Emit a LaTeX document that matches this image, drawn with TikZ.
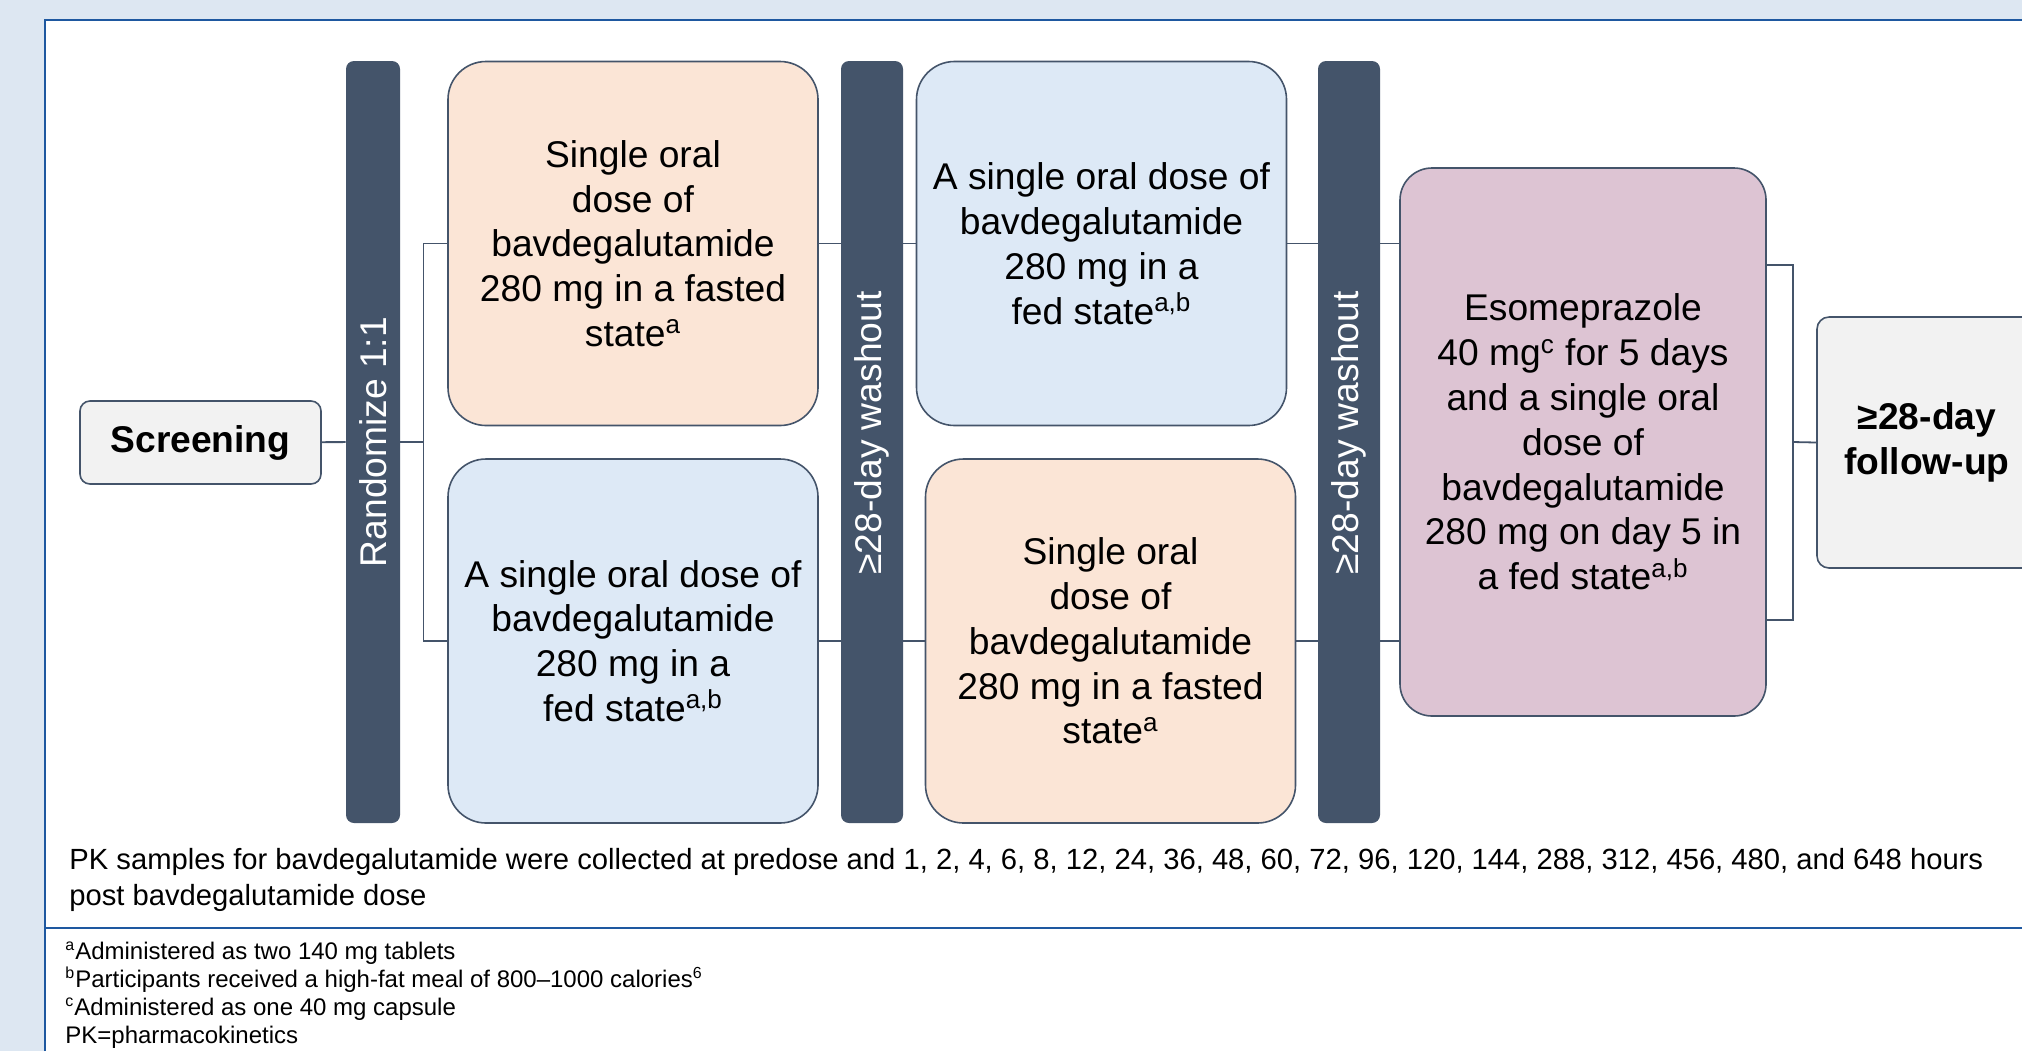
\documentclass[tikz,border=0pt]{standalone}
\usepackage{fontspec}
\setmainfont{Liberation Sans}
\usepackage{tikz}
\usetikzlibrary{positioning,calc}

\definecolor{slate}{RGB}{68,84,106}
\definecolor{frameblue}{RGB}{30,88,160}
\definecolor{panelbg}{RGB}{221,231,242}
\definecolor{fasted}{RGB}{251,229,214}
\definecolor{fed}{RGB}{221,233,246}
\definecolor{esome}{RGB}{221,196,211}
\definecolor{greybox}{RGB}{242,242,242}

\newcommand{\fnm}[1]{\textsuperscript{#1}}

\begin{document}
\begin{tikzpicture}[x=0.5pt,y=-0.5pt,
    boxfont/.style={font=\fontsize{18.6}{22.4}\selectfont},
    dose/.style={draw=slate,line width=0.8pt,rounded corners=19pt,minimum width=185pt,minimum height=182pt,align=center,inner sep=0pt,boxfont},
    bar/.style={fill=slate,rounded corners=4pt,minimum width=27pt,minimum height=381pt,text=white,inner sep=0pt,boxfont},
    endbox/.style={draw=slate,line width=0.8pt,fill=greybox,align=center,inner sep=0pt,font=\fontsize{18.6}{22.4}\selectfont\bfseries},
    link/.style={draw=slate,line width=0.9pt}]
    \useasboundingbox (0,0) rectangle (2022,1051);
    % frame
    \fill[panelbg] (0,0) rectangle (2022,1051);
    \fill[white] (45,20) rectangle (2022,1051);
    \draw[frameblue,line width=1.1pt] (45,1051) -- (45,20) -- (2022,20);
    \draw[frameblue,line width=1.1pt] (45,928) -- (2022,928);

    % boxes and bars
    \node[endbox,rounded corners=5pt,minimum width=120.5pt,minimum height=41.5pt] (scr) at (200.5,442.5) {Screening};
    \node[bar] (rand) at (373,442) {\rotatebox{90}{Randomize 1:1}};
    \node[dose,fill=fasted] (tl) at (633,243.5) {Single oral\\dose of\\bavdegalutamide\\280 mg in a fasted\\state\fnm{a}};
    \node[dose,fill=fed] (bl) at (633,641) {A single oral dose of\\bavdegalutamide\\280 mg in a\\fed state\fnm{a,b}};
    \node[bar,minimum width=31pt] (wash1) at (872,442) {\rotatebox{90}{\hspace{9pt}≥28-day washout}};
    \node[dose,fill=fed] (tm) at (1101.5,243.5) {A single oral dose of\\bavdegalutamide\\280 mg in a\\fed state\fnm{a,b}};
    \node[dose,fill=fasted] (bm) at (1110.5,641) {Single oral\\dose of\\bavdegalutamide\\280 mg in a fasted\\state\fnm{a}};
    \node[bar,minimum width=31pt] (wash2) at (1349,442) {\rotatebox{90}{\hspace{9pt}≥28-day washout}};
    \node[dose,fill=esome,rounded corners=16pt,minimum width=183pt,minimum height=274pt] (eso) at (1583,442) {Esomeprazole\\40 mg\fnm{c} for 5 days\\and a single oral\\dose of\\bavdegalutamide\\280 mg on day 5 in\\a fed state\fnm{a,b}};
    \node[endbox,rounded corners=6pt,minimum width=110pt,minimum height=125.5pt] (fu) at (1927,442.5) {≥28-day\\follow-up};

    % connectors
    \draw[link] (scr) -- (rand);
    \draw[link] (rand.east) -- ++(23,0) coordinate (fork);
    \draw[link] (tl.west) -| (fork) |- (bl.west);
    \foreach \a/\b in {tl/wash1,bl/wash1,tm/wash2,bm/wash2}
        \draw[link] (\a.east) -- (\a.east -| \b.west);
    \foreach \a in {tm,bm}
        \draw[link] (wash1.east |- \a.west) -- (\a.west);
    \foreach \a in {tm,bm}
        \draw[link] (wash2.east |- \a.east) -- (eso.west |- \a.east);
    \draw[link] ([yshift=88.5pt]eso.east) -| ([xshift=13pt]eso.east) |- ([yshift=-89pt]eso.east);
    \draw[link] ([xshift=13pt]eso.east) -- (fu.west);

    % notes
    \node[anchor=base west,align=left,inner sep=0pt,font=\fontsize{14.6}{18}\selectfont] (pk) at (69,905)
        {PK samples for bavdegalutamide were collected at predose and 1, 2, 4, 6, 8, 12, 24, 36, 48, 60, 72, 96, 120, 144, 288, 312, 456, 480, and 648 hours\\post bavdegalutamide dose};
    \node[anchor=base west,align=left,inner sep=0pt,font=\fontsize{12}{14}\selectfont] (notes) at (65,1043)
        {\fnm{a}Administered as two 140 mg tablets\\\fnm{b}Participants received a high-fat meal of 800–1000 calories\fnm{6}\\\fnm{c}Administered as one 40 mg capsule\\PK=pharmacokinetics};
\end{tikzpicture}
\end{document}
